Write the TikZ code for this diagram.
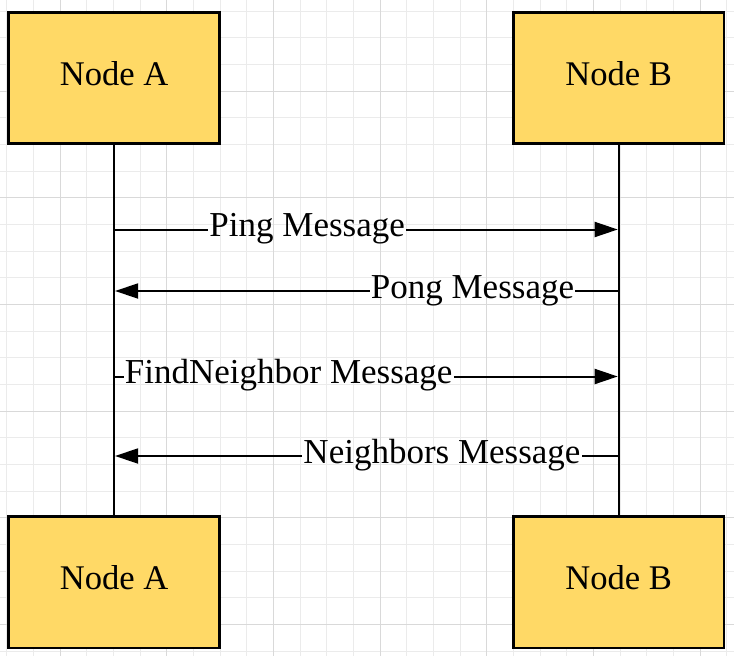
\documentclass[tikz,border=0pt]{standalone}
\usepackage{fontspec}
\setmainfont{Liberation Serif}
\usetikzlibrary{arrows.meta}
\definecolor{boxfill}{HTML}{FFD966}
\definecolor{gridminor}{HTML}{EBEBEB}
\definecolor{gridmajor}{HTML}{D9D9D9}
\begin{document}
\begin{tikzpicture}[x=1pt,y=-1pt,
  actor/.style={draw=black, line width=2.67pt, fill=boxfill,
    minimum width=210.8pt, minimum height=131.6pt, inner sep=0pt,
    text height=23.6pt, text depth=9.6pt,
    font=\fontsize{34.6}{40}\selectfont},
  lifeline/.style={line width=2pt},
  msg/.style={line width=2pt},
  msgtip/.style={msg, -{Triangle[length=23pt,width=15pt]}, shorten >=1pt},
  lbl/.style={anchor=base, inner xsep=1.2pt, inner ysep=1pt,
    font=\fontsize{35}{42}\selectfont}]
  \useasboundingbox (0,0) rectangle (734,656);
  \fill[white] (0,0) rectangle (734,656);
  % grid
  \foreach \i in {0,...,27} {\draw[gridminor, line width=1pt] (6.67+26.67*\i,0) -- ++(0,656);}
  \foreach \j in {0,...,24} {\draw[gridminor, line width=1pt] (0,11+26.67*\j) -- ++(734,0);}
  \foreach \i in {2,6,10,14,18,22,26} {\draw[gridmajor, line width=1pt] (6.67+26.67*\i,0) -- ++(0,656);}
  \foreach \j in {3,7,11,15,19,23} {\draw[gridmajor, line width=1pt] (0,11+26.67*\j) -- ++(734,0);}

  % actors
  \node[actor] (aTop) at (114.1,78) {Node A};
  \node[actor] (bTop) at (618.7,78) {Node B};
  \node[actor] (aBot) at (114.1,582.3) {Node A};
  \node[actor] (bBot) at (618.7,582.3) {Node B};

  % lifelines
  \draw[lifeline] (aTop.south) -- (aBot.north);
  \draw[lifeline] (bTop.south) -- (bBot.north);

  % message end points on lifelines
  \coordinate (m1a) at (114.1,229.5);
  \coordinate (m1b) at (618.7,229.5);
  \coordinate (m2a) at (114.1,291);
  \coordinate (m2b) at (618.7,291);
  \coordinate (m3a) at (114.1,376.5);
  \coordinate (m3b) at (618.7,376.5);
  \coordinate (m4a) at (114.1,456);
  \coordinate (m4b) at (618.7,456);

  % labels
  \node[lbl] (l1) at (307.2,236.5) {Ping Message};
  \node[lbl] (l2) at (472.5,298) {Pong Message};
  \node[lbl] (l3) at (288.7,383.5) {FindNeighbor Message};
  \node[lbl] (l4) at (442,463) {Neighbors Message};

  % messages
  \draw[msg] (m1a) -- (m1a -| l1.west);
  \draw[msgtip] (m1a -| l1.east) -- (m1b);

  \draw[msg] (m2b) -- (m2b -| l2.east);
  \draw[msgtip] (m2b -| l2.west) -- (m2a);

  \draw[msg] (m3a) -- (m3a -| l3.west);
  \draw[msgtip] (m3a -| l3.east) -- (m3b);

  \draw[msg] (m4b) -- (m4b -| l4.east);
  \draw[msgtip] (m4b -| l4.west) -- (m4a);
\end{tikzpicture}
\end{document}
